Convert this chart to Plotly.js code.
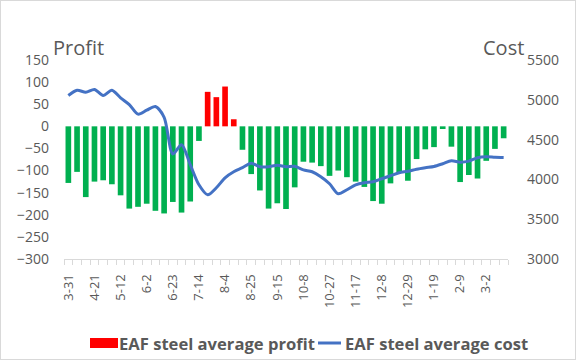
<!DOCTYPE html>
<html><head><meta charset="utf-8">
<script src="https://cdn.plot.ly/plotly-3.0.1.min.js"></script>
<style>html,body{margin:0;padding:0;background:#fff}#wrap{position:relative;width:576px;height:360px}#chart{width:576px;height:360px}#border{position:absolute;left:0;top:0;width:574px;height:358px;border:1px solid #d9d9d9;pointer-events:none}</style>
</head><body><div id="wrap"><div id="chart"></div><div id="border"></div></div>
<script>
const weeks = ["3-31","4-7","4-14","4-21","4-28","5-5","5-12","5-19","5-26","6-2","6-9","6-16","6-23","6-30","7-7","7-14","7-21","7-28","8-4","8-11","8-18","8-25","9-1","9-8","9-15","9-22","9-29","10-8","10-13","10-20","10-27","11-3","11-10","11-17","11-24","12-1","12-8","12-15","12-22","12-29","1-5","1-12","1-19","1-26","2-2","2-9","2-16","2-23","3-2","3-9","3-16"];
const profit = [-128,-103,-160,-125,-122,-131,-156,-186,-182,-175,-191,-197,-171,-195,-170,-33,78,66,90,16,-53,-108,-145,-186,-174,-187,-138,-80,-82,-90,-112,-100,-115,-125,-137,-169,-175,-129,-105,-123,-74,-52,-47,-6,-46,-126,-110,-118,-78,-51,-27];
const cost = [5054,5120,5095,5130,5054,5120,5025,4940,4820,4869,4915,4780,4320,4436,4185,3932,3806,3895,4020,4096,4147,4203,4160,4160,4178,4160,4165,4120,4096,4033,3945,3820,3870,3932,3958,3970,4008,4046,4084,4102,4128,4147,4163,4197,4235,4216,4229,4273,4285,4279,4276];
const seriesNames = ["EAF steel average profit", "EAF steel average cost"];
const labelEvery = 3;
const tickText = weeks.map((w,i)=> i % labelEvery === 0 ? w : "");

const L=64, R=68, T=60, B=101, W=576-L-R, H=360-T-B;
const px = x => (x-L)/W, py = y => (360-B-y)/H;
const gray = "#595959";
const fontFam = "Open Sans, Noto Sans, sans-serif";
const red = "#FF0000", green = "#00B050", blue = "#4472C4";

const traces = [
  {type:"bar", x:weeks, y:profit.map(v=>v>0?v:null), name:seriesNames[0],
   marker:{color:red}, yaxis:"y"},
  {type:"bar", x:weeks, y:profit.map(v=>v<=0?v:null), name:seriesNames[0],
   marker:{color:green}, yaxis:"y"},
  {type:"scatter", mode:"lines", x:weeks, y:cost, name:seriesNames[1],
   line:{color:blue, width:3, shape:"spline", smoothing:0.8}, yaxis:"y2"}
];

const layout = {
  width:576, height:360,
  margin:{l:L, r:R, t:T, b:B, pad:0},
  paper_bgcolor:"#fff", plot_bgcolor:"#fff",
  barmode:"overlay", bargap:0.35,
  font:{family:fontFam, color:gray, size:14},
  showlegend:false,
  xaxis:{type:"category", tickmode:"array", tickvals:weeks, ticktext:tickText, automargin:false,
    tickangle:-90, tickfont:{size:13, color:gray}, ticks:"outside", ticklen:5, tickcolor:"#d9d9d9",
    tickson:"boundaries", showline:true, linecolor:"#d9d9d9", linewidth:1, showgrid:false,
    zeroline:false, range:[-0.5, weeks.length-0.5], ticklabelstandoff:9},
  yaxis:{range:[-300,150], dtick:50, tick0:0, showgrid:false, zeroline:false, showline:false, automargin:false,
    ticks:"", tickfont:{size:14, color:gray}, ticklabelstandoff:14},
  yaxis2:{overlaying:"y", side:"right", range:[3000,5500], dtick:500, tick0:3000, automargin:false,
    showgrid:false, zeroline:false, showline:false, ticks:"", tickfont:{size:14, color:gray},
    ticklabelstandoff:18},
  shapes:[
    {type:"rect", xref:"paper", yref:"paper", x0:px(90), x1:px(118), y0:py(348), y1:py(338),
     fillcolor:red, line:{width:0}},
    {type:"line", xref:"paper", yref:"paper", x0:px(318), x1:px(341), y0:py(343), y1:py(343),
     line:{color:blue, width:3}}
  ],
  annotations:[
    {text:"Profit", xref:"paper", yref:"paper", x:px(51), y:py(48), xanchor:"left", yanchor:"middle",
     showarrow:false, font:{size:20, color:gray, family:fontFam}},
    {text:"Cost", xref:"paper", yref:"paper", x:px(481), y:py(48), xanchor:"left", yanchor:"middle",
     showarrow:false, font:{size:20, color:gray, family:fontFam}},
    {text:"<b>"+seriesNames[0]+"</b>", xref:"paper", yref:"paper", x:px(117), y:py(343), xanchor:"left", yanchor:"middle",
     showarrow:false, font:{size:16.6, color:gray, family:fontFam}},
    {text:"<b>"+seriesNames[1]+"</b>", xref:"paper", yref:"paper", x:px(343), y:py(343), xanchor:"left", yanchor:"middle",
     showarrow:false, font:{size:16.6, color:gray, family:fontFam}}
  ]
};
Plotly.newPlot("chart", traces, layout, {staticPlot:true, displayModeBar:false});
</script></body></html>
